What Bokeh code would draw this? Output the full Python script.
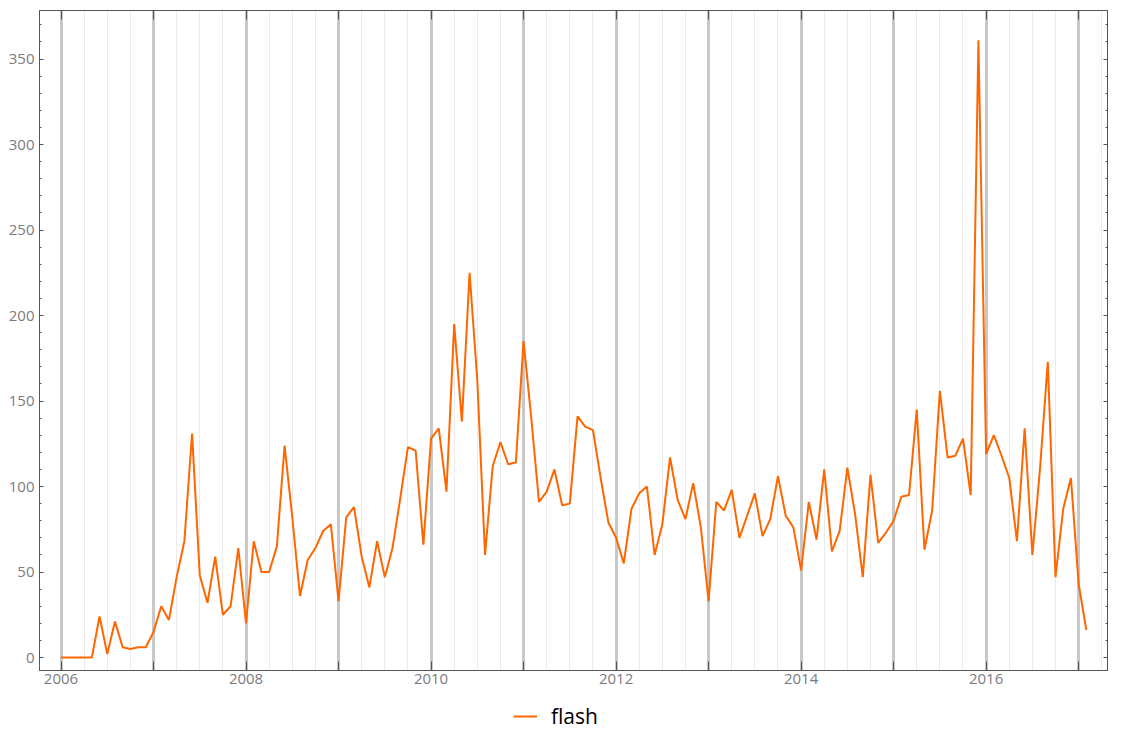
from bokeh.plotting import figure
from bokeh.layouts import column
from bokeh.models import (FixedTicker, LinearAxis, Legend, LegendItem, Range1d,
                          ColumnDataSource, Grid)
from bokeh.embed import file_html
from bokeh.resources import INLINE

# ---------------- data ----------------
start_year = 2006  # first value is January 2006, monthly values
flash = [
    0, 0, 0, 0, 0, 24, 2, 21, 6, 5, 6, 6,                     # 2006
    15, 30, 22, 47, 68, 131, 48, 32, 59, 25, 30, 64,          # 2007
    20, 68, 50, 50, 65, 124, 82, 36, 57, 64, 74, 78,          # 2008
    33, 82, 88, 59, 41, 68, 47, 64, 93, 123, 121, 66,         # 2009
    128, 134, 97, 195, 138, 225, 162, 60, 112, 126, 113, 114, # 2010
    185, 140, 91, 97, 110, 89, 90, 141, 135, 133, 105, 79,    # 2011
    70, 55, 87, 96, 100, 60, 78, 117, 92, 81, 102, 76,        # 2012
    33, 91, 86, 98, 70, 83, 96, 71, 81, 106, 83, 76,          # 2013
    51, 91, 69, 110, 62, 74, 111, 84, 47, 107, 67, 73,        # 2014
    80, 94, 95, 145, 63, 86, 156, 117, 118, 128, 95, 361,     # 2015
    119, 130, 118, 105, 68, 134, 60, 111, 173, 47, 87, 105,   # 2016
    43, 16,                                                   # 2017
]
series_name = "flash"
year_ticks = list(range(2006, 2018))
year_labels = {y: (str(y) if y % 2 == 0 else "") for y in year_ticks}
y_major = list(range(0, 351, 50))
y_minor = list(range(-10, 371, 10))

x_vals = [start_year + i / 12 for i in range(len(flash))]
quarter_ticks = [y + q / 4 for y in range(2005, 2018) for q in range(1, 4)]

src = ColumnDataSource(dict(x=x_vals, y=flash))

LINE_COLOR = "#ff6600"
FONT = "Open Sans"
LABEL_COLOR = "#7a7a80"

# ---------------- main figure ----------------
p = figure(frame_width=1068, frame_height=660, output_backend="svg",
           toolbar_location=None,
           x_range=Range1d(2005.7675, 2017.312), y_range=Range1d(-7.6, 378.4),
           min_border_left=39, min_border_right=15, min_border_top=10,
           min_border_bottom=28, x_axis_type=None, y_axis_type=None)
p.background_fill_color = "white"
p.border_fill_color = "white"
p.outline_line_color = "#555555"
p.outline_line_width = 1

# grid: vertical only (years bold, quarters faint)
p.add_layout(Grid(dimension=0,
                  ticker=FixedTicker(ticks=year_ticks, minor_ticks=quarter_ticks),
                  grid_line_color="#c8c8c8", grid_line_width=3,
                  minor_grid_line_color="#ebebeb", minor_grid_line_width=1))

# bottom axis
xb = LinearAxis(ticker=FixedTicker(ticks=year_ticks, minor_ticks=[]))
xb.major_label_overrides = {y: year_labels[y] for y in year_ticks}
# top axis (ticks only)
xt = LinearAxis(ticker=FixedTicker(ticks=year_ticks, minor_ticks=[]))
xt.major_label_overrides = {y: "" for y in year_ticks}
xt.major_label_standoff = 0
for ax in (xb, xt):
    ax.major_tick_in = 9
    ax.major_tick_out = 0
    ax.minor_tick_in = 0
    ax.minor_tick_out = 0
    ax.axis_line_color = "#555555"
    ax.major_tick_line_color = "#555555"
xb.major_label_text_font = FONT
xb.major_label_text_font_size = "15px"
xb.major_label_text_color = LABEL_COLOR
xb.major_label_standoff = 3
p.add_layout(xb, "below")
p.add_layout(xt, "above")

# left / right axes
yl = LinearAxis(ticker=FixedTicker(ticks=y_major, minor_ticks=y_minor))
yr = LinearAxis(ticker=FixedTicker(ticks=y_major, minor_ticks=y_minor))
yr.major_label_overrides = {v: "" for v in y_major}
yr.major_label_standoff = 0
for ax in (yl, yr):
    ax.major_tick_in = 4
    ax.major_tick_out = 0
    ax.minor_tick_in = 2
    ax.minor_tick_out = 0
    ax.axis_line_color = "#555555"
    ax.major_tick_line_color = "#555555"
    ax.minor_tick_line_color = "#555555"
yl.major_label_text_font = FONT
yl.major_label_text_font_size = "15px"
yl.major_label_text_color = LABEL_COLOR
yl.major_label_standoff = 5
p.add_layout(yl, "left")
p.add_layout(yr, "right")

p.line("x", "y", source=src, line_color=LINE_COLOR, line_width=2)

# ---------------- legend strip below ----------------
# same series, drawn outside this strip's visible range: only its legend shows
p2 = figure(width=1122, height=40, output_backend="svg", toolbar_location=None,
            x_axis_type=None, y_axis_type=None,
            x_range=Range1d(0, 1), y_range=Range1d(0, 1),
            min_border_left=0, min_border_right=0, min_border_top=0,
            min_border_bottom=0)
p2.outline_line_color = None
p2.background_fill_color = "white"
p2.border_fill_color = "white"
p2.xgrid.visible = False
p2.ygrid.visible = False
lr = p2.line("x", "y", source=src, line_color=LINE_COLOR, line_width=2)

legend = Legend(items=[LegendItem(label=series_name, renderers=[lr])],
                orientation="horizontal", location=(474, 8))
legend.label_text_font = FONT
legend.label_text_font_size = "21px"
legend.label_text_color = "black"
legend.glyph_width = 24
legend.label_standoff = 14
legend.border_line_color = None
legend.background_fill_alpha = 0
legend.margin = 0
legend.padding = 2
p2.add_layout(legend, "center")

open("out.html", "w").write(file_html(column(p, p2, spacing=0), INLINE))
